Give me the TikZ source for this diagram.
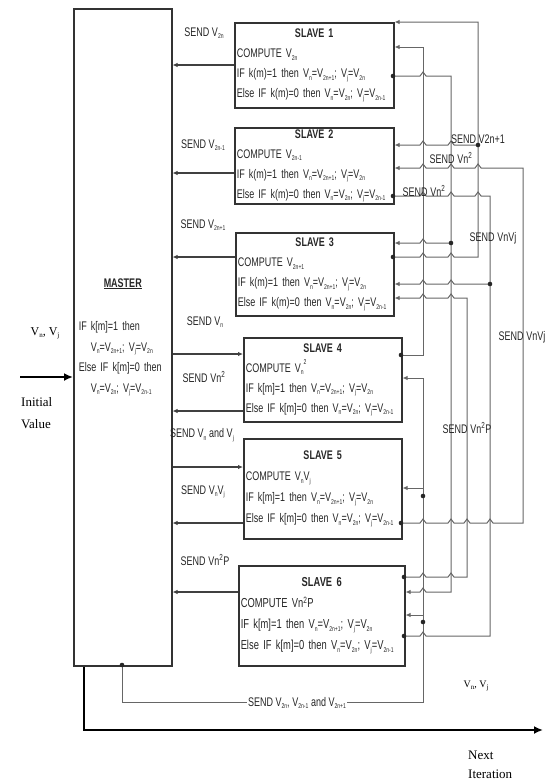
\documentclass[tikz,border=0pt]{standalone}
\usepackage{fontspec}
\setmainfont[FakeStretch=0.72]{Liberation Sans}
\newfontfamily\tnr{Liberation Serif}
\usetikzlibrary{arrows.meta,positioning,calc}

\newcommand{\Vsub}[1]{V\raisebox{-0.4ex}{\fontsize{7}{7}\selectfont #1}}
\newcommand{\tight}{\spaceskip=2.6pt plus 1pt minus 0.5pt\relax}
% hops over crossing wires, left to right / right to left
\newcommand{\hopr}[2]{\foreach \h in {#1} {-- (\h-3,#2) -- (\h,#2-4) -- (\h+3,#2)}}
\newcommand{\hopl}[2]{\foreach \h in {#1} {-- (\h+3,#2) -- (\h,#2-4) -- (\h-3,#2)}}

\tikzset{
  slavebox/.style={
    draw=black!80, line width=1.5pt, rectangle, anchor=north west,
    align=left, inner xsep=2pt, inner ysep=0pt, text=black!85,
    font=\fontsize{12.5}{20}\selectfont\tight
  },
  masterbox/.style={
    draw=black!80, line width=1.5pt, rectangle, anchor=north west,
    align=left, inner xsep=5pt, inner ysep=0pt, text=black!85,
    font=\fontsize{12.5}{20.5}\selectfont\tight
  },
  link/.style={draw=black!75, line width=1.2pt},
  wire/.style={draw=black!60, line width=1pt},
  tip/.style={-{Latex[length=5pt,width=4.5pt]}},
  bigarrow/.style={line width=2.8pt, -{Latex[length=9pt,width=8pt]}},
  sendlbl/.style={font=\fontsize{12.5}{14}\selectfont\tight, text=black!85, inner sep=1pt},
  seriflbl/.style={font=\tnr\fontsize{13}{22}\selectfont, align=left, inner sep=0pt}
}

\begin{document}
\begin{tikzpicture}[x=1pt,y=-1pt]
  \useasboundingbox (0,0) rectangle (547,782);

  % master and slaves
  \node[masterbox, minimum width=98pt, minimum height=657pt, text width=88pt] (master) at (73,8) {%
    \hfill\underline{\textbf{MASTER}}\hfill\mbox{}\\[23pt]
    IF k[m]=1 then\\
    \hspace*{12pt}\Vsub{n}=\Vsub{2n+1}; \Vsub{j}=\Vsub{2n}\\
    Else IF k[m]=0 then\\
    \hspace*{12pt}\Vsub{n}=\Vsub{2n}; \Vsub{j}=\Vsub{2n-1}};

  \node[slavebox, minimum width=159pt, minimum height=85pt, text width=155pt] (s1) at (234,22) {%
    \hfill\textbf{SLAVE 1}\hfill\mbox{}\\
    COMPUTE \Vsub{2n}\\
    IF k(m)=1 then \Vsub{n}=\Vsub{2n+1}; \Vsub{j}=\Vsub{2n}\\
    Else IF k(m)=0 then \Vsub{n}=\Vsub{2n}; \Vsub{j}=\Vsub{2n-1}};
  \node[slavebox, minimum width=159pt, minimum height=76pt, text width=155pt] (s2) at (234,127) {%
    \hfill\textbf{SLAVE 2}\hfill\mbox{}\\
    COMPUTE \Vsub{2n-1}\\
    IF k(m)=1 then \Vsub{n}=\Vsub{2n+1}; \Vsub{j}=\Vsub{2n}\\
    Else IF k(m)=0 then \Vsub{n}=\Vsub{2n}; \Vsub{j}=\Vsub{2n-1}};
  \node[slavebox, minimum width=158pt, minimum height=83pt, text width=154pt] (s3) at (235,232) {%
    \hfill\textbf{SLAVE 3}\hfill\mbox{}\\
    COMPUTE \Vsub{2n+1}\\
    IF k(m)=1 then \Vsub{n}=\Vsub{2n+1}; \Vsub{j}=\Vsub{2n}\\
    Else IF k(m)=0 then \Vsub{n}=\Vsub{2n}; \Vsub{j}=\Vsub{2n-1}};
  \node[slavebox, minimum width=158pt, minimum height=84pt, text width=154pt] (s4) at (243,337) {%
    \hfill\textbf{SLAVE 4}\hfill\mbox{}\\
    COMPUTE V\raisebox{-0.4ex}{\fontsize{7}{7}\selectfont n}\raisebox{1.1ex}{\fontsize{7}{7}\selectfont 2}\\
    IF k[m]=1 then \Vsub{n}=\Vsub{2n+1}; \Vsub{j}=\Vsub{2n}\\
    Else IF k[m]=0 then \Vsub{n}=\Vsub{2n}; \Vsub{j}=\Vsub{2n-1}};
  \node[slavebox, minimum width=158pt, minimum height=100pt, text width=154pt, font=\fontsize{12.5}{21}\selectfont\tight] (s5) at (243,438) {%
    \hfill\textbf{SLAVE 5}\hfill\mbox{}\\
    COMPUTE \Vsub{n}\Vsub{j}\\
    IF k[m]=1 then \Vsub{n}=\Vsub{2n+1}; \Vsub{j}=\Vsub{2n}\\
    Else IF k[m]=0 then \Vsub{n}=\Vsub{2n}; \Vsub{j}=\Vsub{2n-1}};
  \node[slavebox, minimum width=166pt, minimum height=100pt, text width=162pt, font=\fontsize{13}{21}\selectfont\tight] (s6) at (238,565) {%
    \hfill\textbf{SLAVE 6}\hfill\mbox{}\\
    COMPUTE Vn\textsuperscript{2}P\\
    IF k[m]=1 then \Vsub{n}=\Vsub{2n+1}; \Vsub{j}=\Vsub{2n}\\
    Else IF k[m]=0 then \Vsub{n}=\Vsub{2n}; \Vsub{j}=\Vsub{2n-1}};

  % master <-> slave links
  \draw[link,tip] (s1.west |- 0,65) -- (master.east |- 0,65);
  \draw[link,tip] (s2.west |- 0,173) -- (master.east |- 0,173);
  \draw[link,tip] (s3.west |- 0,257) -- (master.east |- 0,257);
  \draw[link,tip] (master.east |- 0,354) -- (s4.west |- 0,354);
  \draw[link,tip] (s4.west |- 0,411) -- (master.east |- 0,411);
  \draw[link,tip] (master.east |- 0,467) -- (s5.west |- 0,467);
  \draw[link,tip] (s5.west |- 0,523) -- (master.east |- 0,523);
  \draw[link,tip] (s6.west |- 0,592) -- (master.east |- 0,592);

  \node[sendlbl] (l1) at (204,33) {SEND \Vsub{2n}};
  \node[sendlbl] (l2) at (203,145) {SEND \Vsub{2n-1}};
  \node[sendlbl] (l3) at (203,225) {SEND \Vsub{2n+1}};
  \node[sendlbl] (l4) at (205,322) {SEND \Vsub{n}};
  \node[sendlbl] (l5) at (204,377) {SEND Vn\textsuperscript{2}};
  \node[sendlbl] (l6) at (202,435) {SEND \Vsub{n} and \Vsub{j}};
  \node[sendlbl] (l7) at (203,492) {SEND \Vsub{n}\Vsub{j}};
  \node[sendlbl] (l8) at (205,560) {SEND Vn\textsuperscript{2}P};

  % wiring between slaves
  \draw[wire,tip] (s3.east |- 0,257) \hopr{423,451}{257} -- (478,257) -- (478,22) -- (s1.north east);
  \draw[wire,tip] (478,145) \hopl{451,423}{145} -- (s2.east |- 0,145);
  \draw[wire,tip] (s4.east |- 0,355) -- (423,355) -- (423,47) -- (s1.east |- 0,47);
  \draw[wire,tip] (s1.east |- 0,76) \hopr{423}{76} -- (451,76) -- (451,592) \hopl{423}{592} -- (s6.east |- 0,592);
  \draw[wire,tip] (451,243) \hopl{423}{243} -- (s3.east |- 0,243);
  \draw[wire,tip] (s5.east |- 0,523) \hopr{423,451,467,490}{523} -- (523,523) -- (523,168) \hopl{478,451,423}{168} -- (s2.east |- 0,168);
  \draw[wire] (s2.east |- 0,196) \hopr{423,451,478}{196} -- (490,196) -- (490,636) \hopl{423}{636} -- (s6.east |- 0,636);
  \draw[wire,tip] (490,284) \hopl{451,423}{284} -- (s3.east |- 0,284);
  \draw[wire,tip] (s6.east |- 0,577) \hopr{423,451}{577} -- (467,577) -- (467,298) \hopl{451,423}{298} -- (s3.east |- 0,298);
  \draw[wire,tip] (master.south -| 122,0) -- (122,702) -- (423,702) -- (423,378) -- (s4.east |- 0,378);
  \draw[wire,tip] (423,488) -- (s5.east |- 0,488);
  \draw[wire,tip] (423,615) -- (s6.east |- 0,615);
  \foreach \p in {(393,257),(478,145),(401,355),(393,76),(451,243),(401,523),(393,196),(404,636),(490,284),(404,577),(122,665),(423,496),(423,622)}
    \fill[black!85] \p circle (2.3);

  \node[sendlbl] (r1) at (478,139) {SEND V2n+1};
  \node[sendlbl] (r2) at (451,158) {SEND Vn\textsuperscript{2}};
  \node[sendlbl] (r3) at (424,191) {SEND Vn\textsuperscript{2}};
  \node[sendlbl] (r4) at (493,238) {SEND VnVj};
  \node[sendlbl] (r5) at (522,337) {SEND VnVj};
  \node[sendlbl] (r6) at (467,428) {SEND Vn\textsuperscript{2}P};
  \node[sendlbl, fill=white] (fb) at (297,703) {SEND \Vsub{2n}, \Vsub{2n-1} and \Vsub{2n+1}};

  % input and next iteration
  \coordinate (init) at (20,377);
  \coordinate (next) at (543,730);
  \draw[bigarrow] (init) -- (master.west |- init);
  \draw[bigarrow] (master.south -| 84,0) |- (next);
  \node[seriflbl, font=\tnr\fontsize{12}{14}\selectfont] (vin) at (45,333) {\Vsub{n}, \Vsub{j}};
  \node[seriflbl, anchor=north west] (initv) at (21,397) {Initial\\Value};
  \node[seriflbl, font=\tnr\fontsize{10}{12}\selectfont] (vout) at (476,686) {\Vsub{n}, \Vsub{j}};
  \node[seriflbl, anchor=north west, font=\tnr\fontsize{13}{19}\selectfont] (nexti) at (468,751) {Next\\Iteration};
\end{tikzpicture}
\end{document}
